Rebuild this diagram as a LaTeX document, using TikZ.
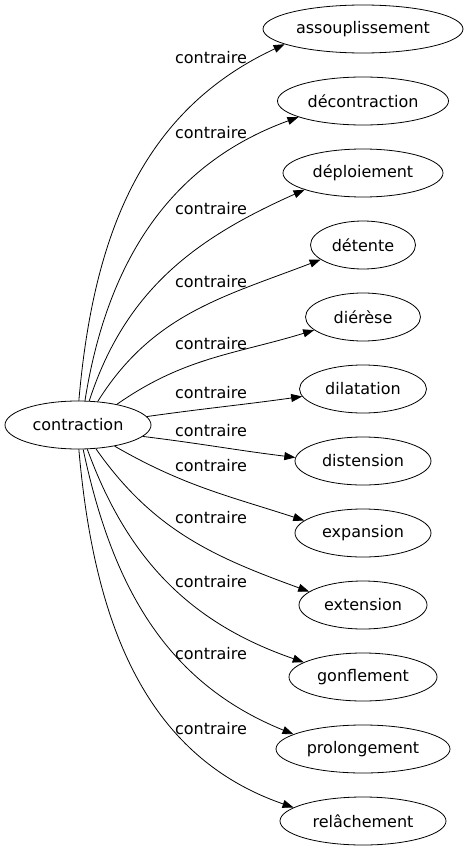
\documentclass[tikz,border=0pt]{standalone}
\usepackage{fontspec}
\setmainfont{DejaVu Sans}
\usetikzlibrary{arrows.meta,shapes.geometric}

\begin{document}
\begin{tikzpicture}[x=1pt,y=1pt,
	word/.style={draw,ellipse,line width=0.8pt,inner sep=0pt,minimum height=48pt,font=\fontsize{16}{19}\selectfont},
	lbl/.style={inner sep=0pt,font=\fontsize{16}{19}\selectfont},
	rel/.style={line width=0.8pt,-{Triangle[length=11pt,width=8pt]}}]
			\useasboundingbox (0,0) rectangle (467,-851);
			\node[word,minimum width=146pt] (ctr) at (78,-425) {contraction};

			\node[word,minimum width=200pt] (asso) at (363,-29) {assouplissement};
			\node[word,minimum width=171pt] (decon) at (363,-101) {décontraction};
			\node[word,minimum width=160pt] (deplo) at (363,-173) {déploiement};
			\node[word,minimum width=105pt] (deten) at (363,-245) {détente};
			\node[word,minimum width=115pt] (dier) at (363,-317) {diérèse};
			\node[word,minimum width=127pt] (dilat) at (363,-389) {dilatation};
			\node[word,minimum width=136pt] (disten) at (363,-461) {distension};
			\node[word,minimum width=136pt] (expan) at (363,-533) {expansion};
			\node[word,minimum width=128pt] (exten) at (363,-605) {extension};
			\node[word,minimum width=148pt] (gonfl) at (363,-677) {gonflement};
			\node[word,minimum width=174pt] (prolo) at (363,-749) {prolongement};
			\node[word,minimum width=166pt] (relac) at (363,-821) {relâchement};

			\node[lbl] (l1) at (211,-58) {contraire};
			\node[lbl] (l2) at (211,-133) {contraire};
			\node[lbl] (l3) at (211,-209) {contraire};
			\node[lbl] (l4) at (211,-282) {contraire};
			\node[lbl] (l5) at (211,-344) {contraire};
			\node[lbl] (l6) at (211,-393) {contraire};
			\node[lbl] (l7) at (211,-431) {contraire};
			\node[lbl] (l8) at (211,-466) {contraire};
			\node[lbl] (l9) at (211,-518) {contraire};
			\node[lbl] (l10) at (211,-582) {contraire};
			\node[lbl] (l11) at (211,-654) {contraire};
			\node[lbl] (l12) at (211,-729) {contraire};

			\draw[rel] (ctr.88) to[out=85,in=205] (asso.191);
			\draw[rel] (ctr.74) to[out=81,in=200] (decon.194);
			\draw[rel] (ctr.65) to[out=72,in=204] (deplo.196);
			\draw[rel] (ctr.50) to[out=58,in=201] (deten.199);
			\draw[rel] (ctr.28) to[out=35,in=197] (dier.195);
			\draw[rel] (ctr.7) to[out=8,in=188] (dilat.187);
			\draw[rel] (ctr.-10) to[out=-7,in=173] (disten.177);

			\draw[rel] (ctr.-30) to[out=-30,in=162] (expan.168);
			\draw[rel] (ctr.-53) to[out=-55,in=160] (exten.166);
			\draw[rel] (ctr.-69) to[out=-70,in=161] (gonfl.166);
			\draw[rel] (ctr.-78) to[out=-78,in=158] (prolo.168);
			\draw[rel] (ctr.-88) to[out=-85,in=161] (relac.169);
			\end{tikzpicture}
\end{document}
